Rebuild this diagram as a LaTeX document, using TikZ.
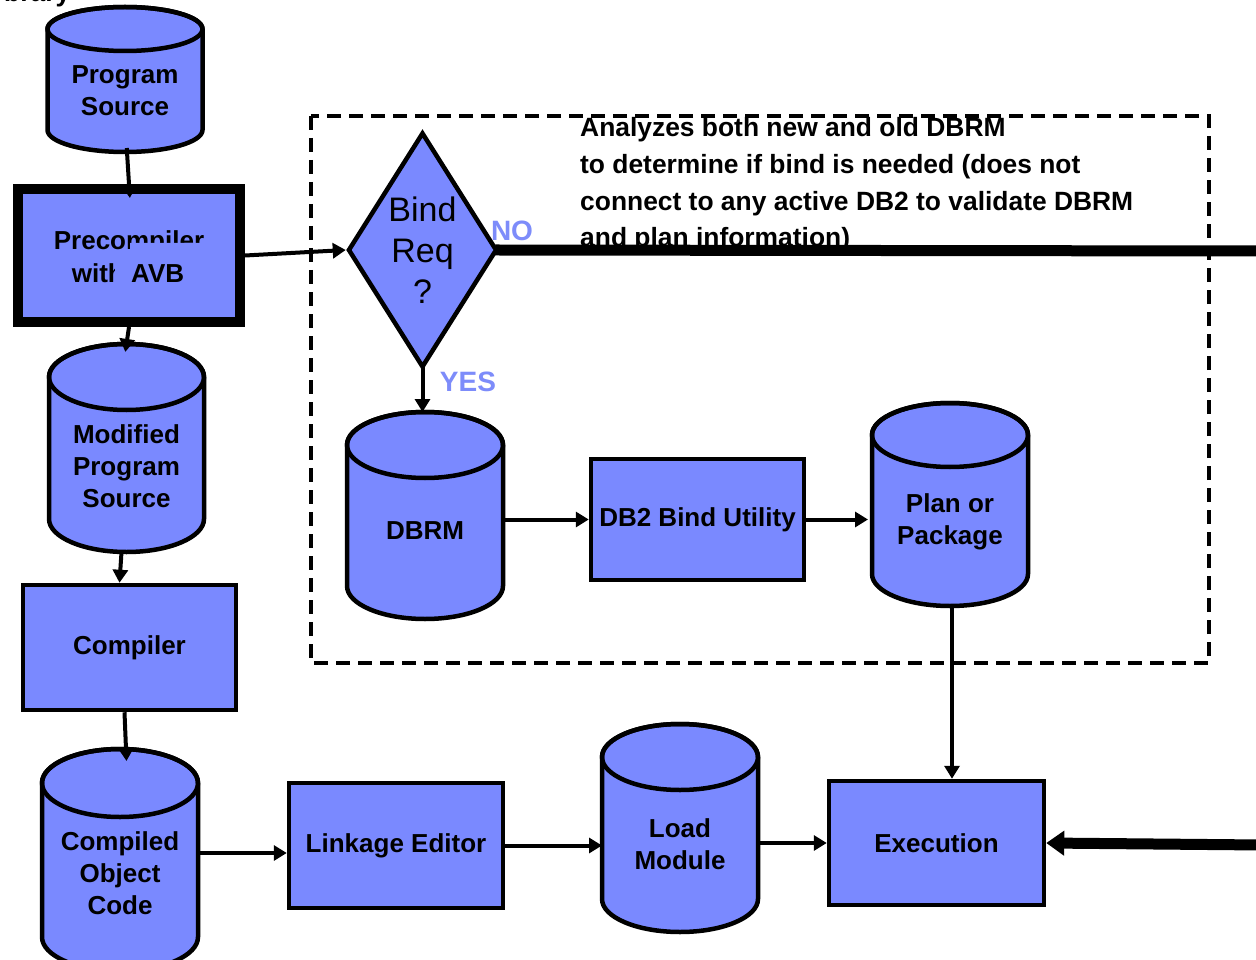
\documentclass[tikz,border=0pt]{standalone}
\usepackage{fontspec}
\setmainfont{Liberation Sans}
\usetikzlibrary{shapes.geometric,arrows.meta,calc}
\definecolor{dbblue}{RGB}{122,137,255}
\definecolor{lblblue}{RGB}{125,140,250}
\newcommand{\dbcyl}[8]{%
  \path[cylfill] ({#2-#5},{-#3-#6}) -- ({#2-#5},{-#4+#6})
     arc[start angle=180,end angle=360,x radius=#5,y radius=#6]
     -- ({#2+#5},{-#3-#6})
     arc[start angle=0,end angle=180,x radius=#5,y radius=#6] -- cycle;
  \draw[cylline] (#2,{-#3-#6}) ellipse[x radius=#5,y radius=#6];
  \node[cylname,minimum width={2*#5},minimum height={#4-#3}] (#1) at (#2,{-(#3+#4)/2}) {};
  \node[lbl] (#1t) at (#2,-#7) {#8};
}
\begin{document}
\begin{tikzpicture}[x=1pt,y=1pt,
  cylfill/.style={fill=dbblue,draw=black,line width=4.5pt,line join=round},
  cylline/.style={draw=black,line width=4.5pt},
  cylname/.style={draw=none,inner sep=0pt,outer sep=0pt,rectangle},
  lbl/.style={font=\fontsize{26}{32}\selectfont\bfseries,align=center,inner sep=0pt},
  procbox/.style={rectangle,fill=dbblue,draw=black,line width=4.5pt,inner sep=0pt,font=\fontsize{26}{32}\selectfont\bfseries,align=center},
  arr/.style={line width=4pt,-{Triangle[length=13pt,width=15pt]}},
  thickarr/.style={line width=11pt,-{Triangle[length=18pt,width=24pt]}},
  yn/.style={font=\fontsize{28}{32}\selectfont\bfseries,text=lblblue,inner sep=0pt},
  note/.style={font=\fontsize{26.4}{32}\selectfont\bfseries,anchor=base west,inner sep=0pt},
]
\useasboundingbox (0,0) rectangle (1256,-960);
\clip (0,0) rectangle (1256,-960);

\node[note] (lib) at (4,-1.5) {brary};

% dashed region
\draw[line width=4pt,dash pattern=on 14pt off 8pt] (311,-116) rectangle (1209,-663);

% note text
\node[note] (n1) at (580,-137) {Analyzes both new and old DBRM};
\node[note] (n2) at (580,-174) {to determine if bind is needed (does not};
\node[note] (n3) at (580,-211) {connect to any active DB2 to validate DBRM};
\node[note] (n4) at (580,-247) {and plan information)};

% cylinders
\dbcyl{ps}{125}{7}{152}{77.5}{22}{91}{Program\\Source}
\dbcyl{mps}{126.5}{344}{552}{77.5}{33}{466}{Modified\\Program\\Source}
\dbcyl{coc}{120}{749}{971}{78}{34}{873}{Compiled\\Object\\Code}
\dbcyl{lm}{680}{724}{932}{78}{33}{844}{Load\\Module}
\dbcyl{pp}{950}{403}{606}{78}{32}{522}{Plan or\\Package}
\dbcyl{dbrm}{425}{412}{619}{78}{33}{531}{DBRM}

% precompiler box with clipped text
\node[procbox,line width=10pt,minimum width=222pt,minimum height=133pt] (pre) at (129,-255.5) {};
\node[lbl,anchor=base] (pre1) at (129,-250) {Precompiler};
\node[lbl,anchor=base east] (pre2) at (124,-282) {with};
\fill[dbblue] (130,-243) -- (234,-243) -- (234,-300) -- (115,-300) -- (115,-258) -- (130,-258) -- cycle;
\node[lbl,anchor=base west] (pre3) at (131,-282) {AVB};

% process boxes
\node[procbox,minimum width=213pt,minimum height=125pt] (cmp) at (129.5,-647.5) {Compiler};
\node[procbox,minimum width=214pt,minimum height=125pt] (le) at (396,-845.5) {Linkage Editor};
\node[procbox,minimum width=215pt,minimum height=124pt] (ex) at (936.5,-843) {Execution};
\node[procbox,minimum width=213pt,minimum height=121pt] (bu) at (697.5,-519.5) {DB2 Bind Utility};

% decision
\node[diamond,aspect=0.63,fill=dbblue,draw=black,line width=4.5pt,minimum width=149pt,minimum height=235pt,inner sep=0pt,align=center,font=\fontsize{34}{41}\selectfont] (dia) at (422.5,-250) {Bind\\Req\\?};

\node[yn] (yes) at (468,-382) {YES};
\node[yn] (no) at (512,-231) {NO};

% helper coordinates
\coordinate (r1) at (0,-853);
\coordinate (noend) at (1262,-251);
\coordinate (exin) at (1262,-845);

% connectors
\draw[arr,shorten >=-14pt,shorten <=-4pt] ([xshift=2pt]ps.south) -- (pre.north);
\draw[arr] (pre.east) -- (dia.west);
\draw[arr,shorten >=-8pt] (pre.south) -- (mps.north);
\draw[arr] ([xshift=-5pt]mps.south) -- ([xshift=-10pt]cmp.north);
\draw[arr,shorten >=-12pt] ([xshift=-5pt]cmp.south) -- ([xshift=6pt]coc.north);
\draw[arr] (coc.east |- r1) -- (le.west |- r1);
\draw[arr] (le.east) -- (lm.west |- le.east);
\draw[arr] (lm.east |- ex.west) -- (ex.west);
\draw[arr] ([xshift=2pt]pp.south) -- ([xshift=2pt]pp.south |- ex.north);
\draw[arr,shorten <=-4pt] (dia.south) -- (dia.south |- dbrm.north);
\draw[arr] (dbrm.east |- bu.west) -- (bu.west);
\draw[arr,shorten >=4pt] (bu.east) -- (pp.west |- bu.east);
\draw[line width=11pt,shorten <=-4pt] (dia.east) -- (noend);
\draw[thickarr] (exin) -- (ex.east);
\end{tikzpicture}
\end{document}
